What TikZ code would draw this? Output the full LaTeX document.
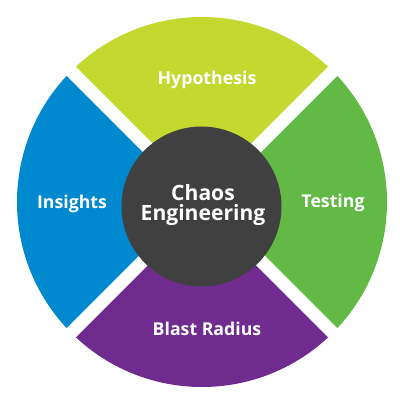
\documentclass[tikz,border=0pt]{standalone}
\usepackage{fontspec}
\setmainfont{Open Sans}
\definecolor{hypcol}{HTML}{C4D92F}
\definecolor{tstcol}{HTML}{63B946}
\definecolor{blscol}{HTML}{6F2C8E}
\definecolor{inscol}{HTML}{0089CF}
\definecolor{hubcol}{HTML}{404040}

\begin{document}
\begin{tikzpicture}[
  x=0.25mm, y=0.25mm,
  seglbl/.style={
    text=white, font=\bfseries\fontsize{12.6}{14}\selectfont, anchor=base
  },
  hublbl/.style={
    text=white, font=\bfseries\fontsize{15}{14.5}\selectfont, align=center
  },
  gap/.style={white, line width=3.25mm},
]
\useasboundingbox (0,0) rectangle (400,400);

% Outer ring sectors
\coordinate (ctr) at (202,198);
\foreach \a/\c in {45/hypcol, 315/tstcol, 225/blscol, 135/inscol} {
  \fill[\c] (ctr) -- ++(\a:185) arc[start angle=\a, delta angle=90, radius=185] -- cycle;
}

% White gaps along the diagonals
\draw[gap] (ctr) ++(45:200) -- ++(225:400);
\draw[gap] (ctr) ++(135:200) -- ++(315:400);

% Hub
\fill[hubcol] (201.5,193.5) circle[radius=80];

% Labels
\node[seglbl] (hyp) at (207,315) {Hypothesis};
\node[seglbl] (tst) at (333,192) {Testing};
\node[seglbl] (ins) at (72,191)  {Insights};
\node[seglbl] (bls) at (207,64)  {Blast Radius};
\node[hublbl] (hub) at (203,195) {Chaos\\Engineering};

\end{tikzpicture}
\end{document}
